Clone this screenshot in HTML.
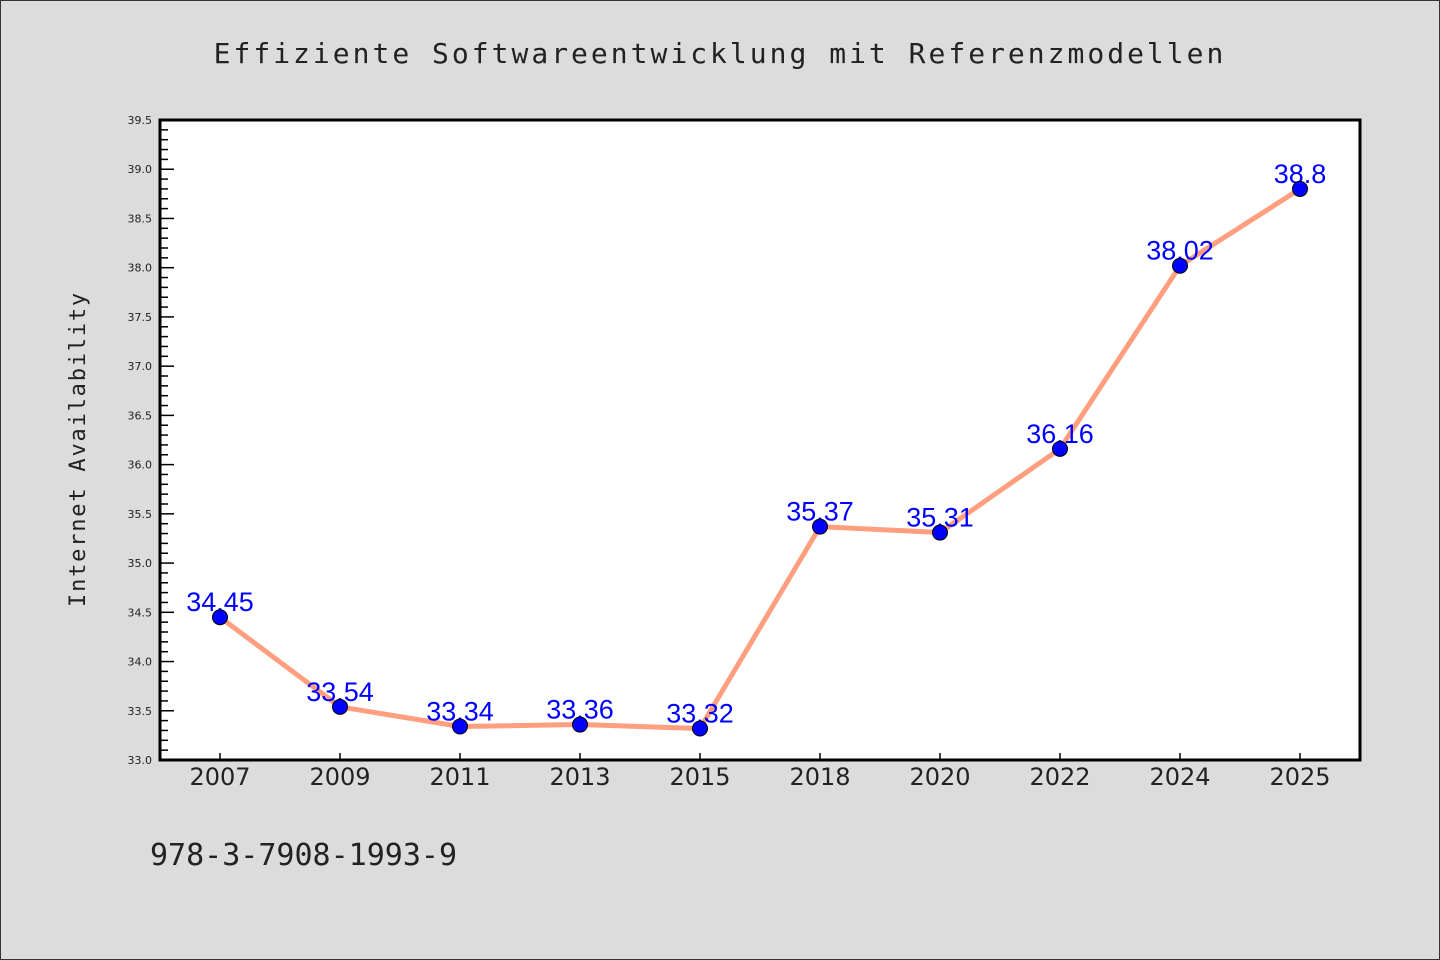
<!DOCTYPE html>
<html><head><meta charset="utf-8"><style>
html,body{margin:0;padding:0;background:#dcdcdc;}
svg{display:block;}
</style></head><body>
<svg width="1440" height="960" xmlns="http://www.w3.org/2000/svg">
<rect x="0.5" y="0.5" width="1439" height="959" fill="#dcdcdc" stroke="#333" stroke-width="1"/>
<text x="720" y="63" text-anchor="middle" font-family="DejaVu Sans Mono, monospace" font-size="28" letter-spacing="3" fill="#222">Effiziente Softwareentwicklung mit Referenzmodellen</text>
<text transform="translate(85,449) rotate(-90)" text-anchor="middle" font-family="DejaVu Sans Mono, monospace" font-size="22" letter-spacing="1.8" fill="#222">Internet Availability</text>
<text x="150" y="865" font-family="DejaVu Sans Mono, monospace" font-size="30" fill="#222">978-3-7908-1993-9</text>
<rect x="160" y="120" width="1200" height="640" fill="#fff"/>
<g id="axes"></g>
<g id="marks"></g>
<rect x="160" y="120" width="1200" height="640" fill="none" stroke="#000" stroke-width="3"/>
</svg>
<script>
const categories=["2007","2009","2011","2013","2015","2018","2020","2022","2024","2025"];
const values=[34.45,33.54,33.34,33.36,33.32,35.37,35.31,36.16,38.02,38.8];
const yTicks=["33.0","33.5","34.0","34.5","35.0","35.5","36.0","36.5","37.0","37.5","38.0","38.5","39.0","39.5"];
const NS="http://www.w3.org/2000/svg";
const L=160,R=1360,T=120,B=760,yMin=33.0,yMax=39.5;
const bw=(R-L)/categories.length;
function x(i){return L+bw*(i+0.5);}
function y(v){return B-(v-yMin)/(yMax-yMin)*(B-T);}
function mk(tag,attrs,parent){const e=document.createElementNS(NS,tag);for(const k in attrs)e.setAttribute(k,attrs[k]);parent.appendChild(e);return e;}
const axes=document.getElementById('axes'),marks=document.getElementById('marks');
// minor ticks
for(let k=0;k<=65;k++){const v=yMin+k*0.1;const yy=y(v);const major=k%5===0;
 const t=mk('line',{x1:L,x2:L+(major?14:8),y1:yy,y2:yy,stroke:'#000','stroke-width':1.5},axes);
 
 }
yTicks.forEach(s=>{const yy=y(parseFloat(s));
 const t=mk('text',{x:L-8,y:yy+4,'text-anchor':'end','font-family':'DejaVu Sans, sans-serif','font-size':11,fill:'#222'},axes);
 t.textContent=s;
 
 });
categories.forEach((c,i)=>{
 const tk=mk('line',{x1:x(i),x2:x(i),y1:B,y2:B-7,stroke:'#000','stroke-width':1.5},axes);
 
 
 const t=mk('text',{x:x(i),y:B+25,'text-anchor':'middle','font-family':'DejaVu Sans, sans-serif','font-size':24,fill:'#222'},axes);
 t.textContent=c;
 
 });
const pts=values.map((v,i)=>x(i)+','+y(v)).join(' ');
const pl=mk('polyline',{points:pts,fill:'none',stroke:'#ff9f7f','stroke-width':5,'stroke-linejoin':'round'},marks);


values.forEach((v,i)=>{
 const t=mk('text',{x:x(i),y:y(v)-6,'text-anchor':'middle','font-family':'Liberation Sans, sans-serif','font-size':27,fill:'#0000ff'},marks);
 t.textContent=String(v);
 
 });
values.forEach((v,i)=>{
 const c=mk('circle',{cx:x(i),cy:y(v),r:7.5,fill:'#0000ff',stroke:'#000','stroke-width':1},marks);
 
 });
</script>
</body></html>
